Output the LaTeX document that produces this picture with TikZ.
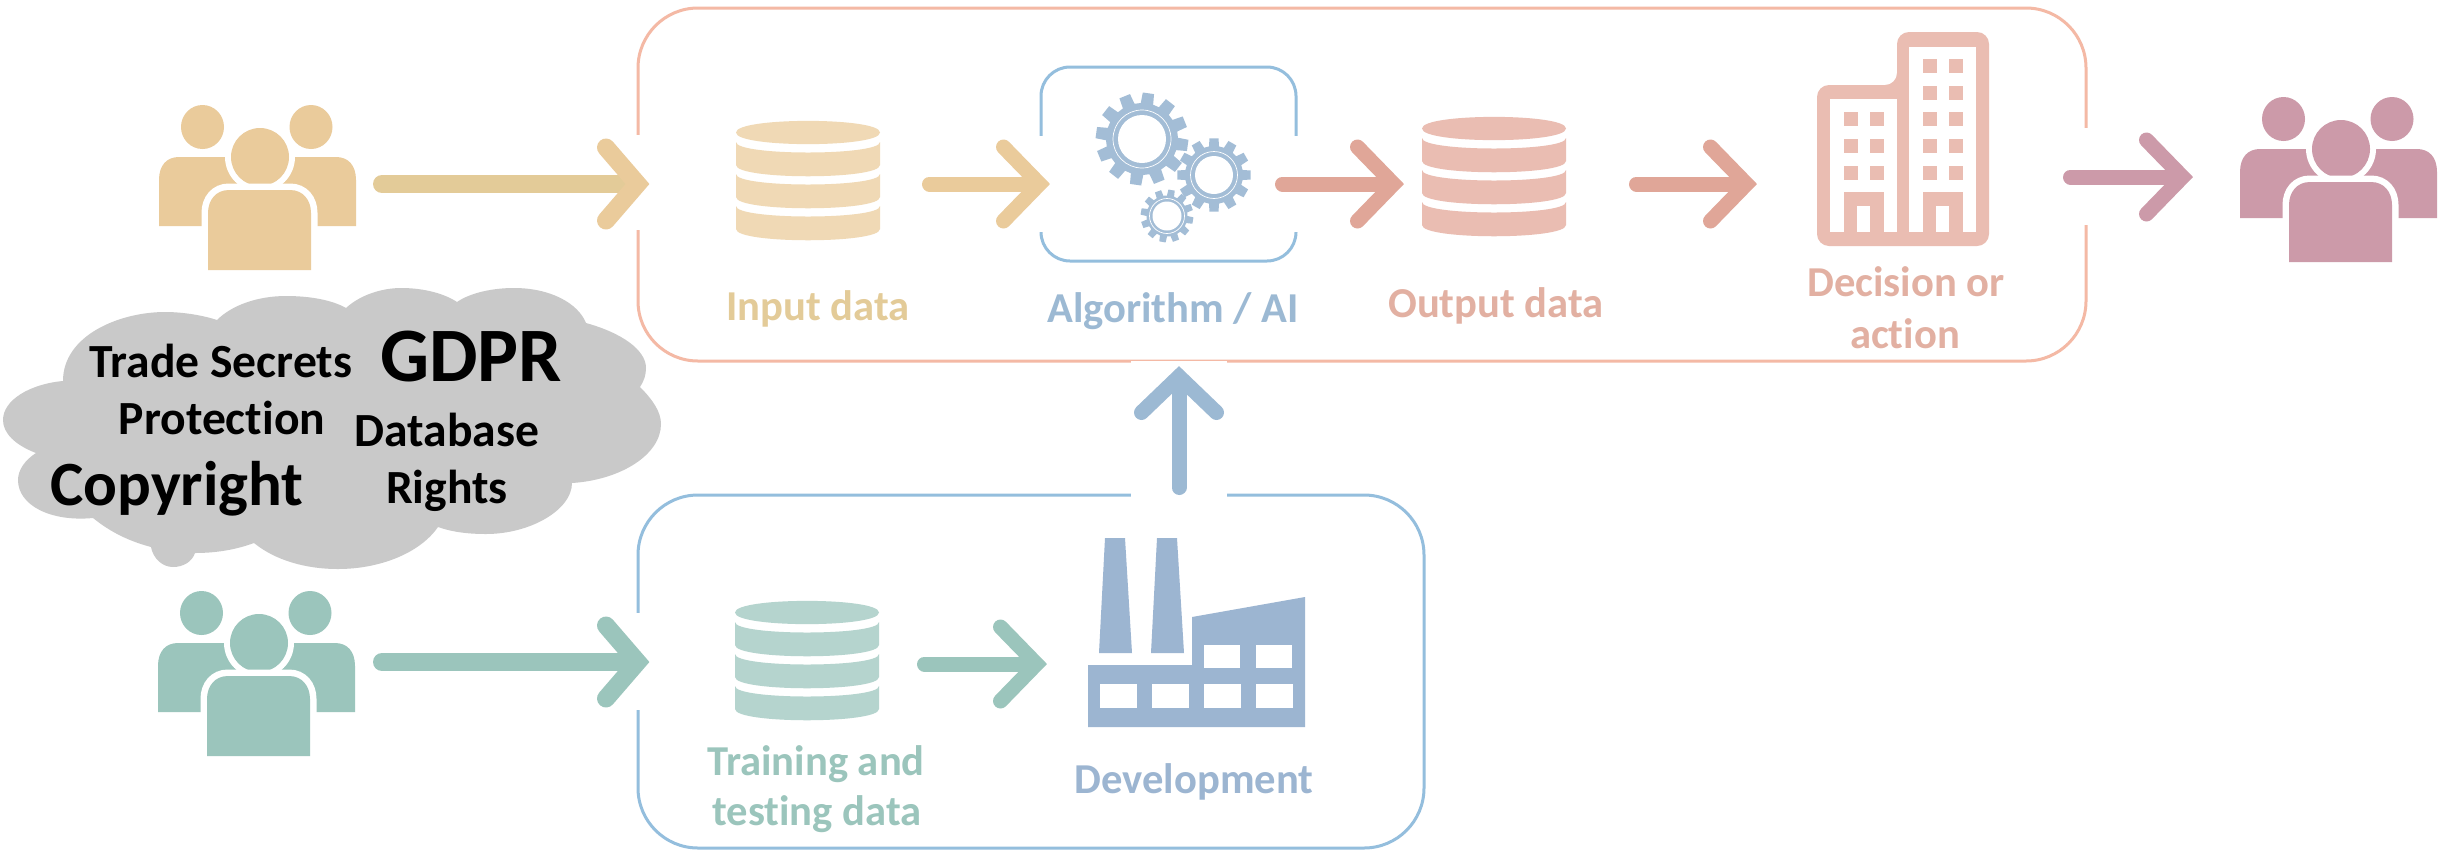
\documentclass[tikz,border=0pt]{standalone}
\usepackage{fontspec}
\setmainfont[Ligatures=CommonOff]{Carlito}
\usetikzlibrary{fit}
\definecolor{cBox}{HTML}{F4B9A5}
\definecolor{cBlueBox}{HTML}{94BEDD}
\definecolor{cSand}{HTML}{EACB9B}
\definecolor{cSandArrow}{HTML}{E3CB98}
\definecolor{cSandDb}{HTML}{F0D9B5}
\definecolor{cSandText}{HTML}{E3CB98}
\definecolor{cSalmon}{HTML}{E0A698}
\definecolor{cSalmonDb}{HTML}{EABDB2}
\definecolor{cSalmonText}{HTML}{E2B0A2}
\definecolor{cTeal}{HTML}{9BC5BC}
\definecolor{cTealDb}{HTML}{B5D4CE}
\definecolor{cBlue}{HTML}{9CB5D1}
\definecolor{cBlueText}{HTML}{9CB9D3}
\definecolor{cGear}{HTML}{A3BDD6}
\definecolor{cPink}{HTML}{CC9AA9}
\definecolor{cCloud}{HTML}{C9C9C9}
\tikzset{
  slot/.style={inner sep=0pt,outer sep=0pt,draw=none},
  framebox/.style={rounded corners=30pt,line width=1.5pt,inner sep=0pt,outer sep=0pt},
  thickshaft/.style={line width=9pt,line cap=round,shorten >=8pt},
  thinshaft/.style={line width=7.5pt,line cap=round,shorten >=8pt},
  thickbarb/.style={line width=9pt,line cap=round,line join=miter,miter limit=10},
  thinbarb/.style={line width=7.5pt,line cap=round,line join=miter,miter limit=10},
  lab/.style={anchor=base,inner sep=0pt,font=\fontsize{21.3}{25}\selectfont\bfseries},
  cloudsmall/.style={anchor=base,inner sep=0pt,text=black,font=\fontsize{23.8}{27}\selectfont\bfseries},
}
% arrow heads whose tip sits exactly on the named anchor
\newcommand{\thickhead}[2]{\draw[thickbarb,#2] ([shift={(-44,-36.5)}]#1) -- ([shift={(-12.5,0)}]#1) -- ([shift={(-44,36.5)}]#1);}
\newcommand{\thinhead}[2]{\draw[thinbarb,#2] ([shift={(-46.5,-37)}]#1) -- ([shift={(-10.5,0)}]#1) -- ([shift={(-46.5,37)}]#1);}
\newcommand{\uphead}[2]{\draw[thinbarb,#2] ([shift={(-37.5,46.5)}]#1) -- ([shift={(0,10.5)}]#1) -- ([shift={(37.5,46.5)}]#1);}
\newcommand{\peopleicon}[3]{%
  \begin{scope}[shift={(#1,#2)}]
    \fill[#3] (0,121) -- (0,75) .. controls (0,60) and (8,52) .. (20,52) -- (177,52) .. controls (189,52) and (197,60) .. (197,75) -- (197,121) -- cycle;
    \fill[#3] (43.5,22) ellipse [x radius=21.5,y radius=22];
    \fill[#3] (152,22) ellipse [x radius=21.5,y radius=22];
    \fill[white] (101,52) ellipse [x radius=35,y radius=35];
    \fill[#3] (101,52) ellipse [x radius=29,y radius=29];
    \draw[white,line width=6.5pt] (49,165) -- (49,108) .. controls (49,95) and (57,85) .. (70,85) -- (131,85) .. controls (144,85) and (152,95) .. (152,108) -- (152,165);
    \fill[#3] (49,165) -- (49,108) .. controls (49,95) and (57,85) .. (70,85) -- (131,85) .. controls (144,85) and (152,95) .. (152,108) -- (152,165) -- cycle;
  \end{scope}}
\newcommand{\dbicon}[3]{%
  \begin{scope}[shift={(#1,#2)}]
    \fill[#3] (0,11.5) .. controls (0,-4) and (144,-4) .. (144,11.5) .. controls (144,27) and (0,27) .. (0,11.5) -- cycle;
    \fill[#3] (0,21) .. controls (0,35) and (144,35) .. (144,21) -- (144,44) .. controls (144,59) and (0,59) .. (0,44) -- cycle;
    \fill[#3] (0,53) .. controls (0,67) and (144,67) .. (144,53) -- (144,76) .. controls (144,91) and (0,91) .. (0,76) -- cycle;
    \fill[#3] (0,85) .. controls (0,99) and (144,99) .. (144,85) -- (144,108) .. controls (144,123) and (0,123) .. (0,108) -- cycle;
  \end{scope}}
% centre x, centre y, outer r, root r, hole r, ring r, rotation
\newcommand{\gearicon}[7]{%
  \begin{scope}[shift={(#1,#2)}]
    \fill[cGear] ({#7-10}:#4) \foreach \a in {0,30,...,330}{ -- ({\a+#7-10}:#4) -- ({\a+#7-7}:#3) -- ({\a+#7+7}:#3) -- ({\a+#7+10}:#4) } -- cycle;
    \fill[white] (0,0) circle [radius=#5];
    \draw[white,line width=.35pt] (0,0) circle [radius=#6];
  \end{scope}}
\begin{document}
\begin{tikzpicture}[x=0.5pt,y=-0.5pt]
\useasboundingbox[fill=white] (0,0) rectangle (2458,853);

% frames
\node[framebox,draw=cBox,fit={(638,8) (2086,361)}] (topframe) {};
\node[framebox,draw=cBlueBox,fit={(638,495) (1424,848)}] (devframe) {};
\node[draw=cBlueBox,line width=1.5pt,rounded corners=14.5pt,inner sep=0pt,outer sep=0pt,fit={(1041,67) (1296,261)}] (algframe) {};
% gaps
\fill[white] (630,135) rectangle (646,230);
\fill[white] (2078,128) rectangle (2094,225);
\fill[white] (630,613) rectangle (646,710);
\fill[white] (1033,136) rectangle (1304,232);
\fill[white] (1131,361) rectangle (1227,500);

% anchors for connectors
\node[slot,fit={(159,184) (382,184)}] (peopleA) {};
\node[slot,fit={(650,184) (929.5,184)}] (dbA) {};
\node[slot,fit={(1050,184) (1282.5,184)}] (gears) {};
\node[slot,fit={(1404,184) (1636.5,184)}] (dbB) {};
\node[slot,fit={(1757,184) (2070.5,184)}] (tower) {};
\node[slot,fit={(2193,177) (2438,177)}] (peopleB) {};
\node[slot,fit={(158,662) (382,662)}] (peopleC) {};
\node[slot,fit={(650,662) (924.5,662)}] (dbC) {};
\node[slot,fit={(1047,664) (1305,664)}] (factory) {};
\coordinate (upfoot) at (1179,487.5);
\coordinate (uptip) at (1179,366);

% people
\peopleicon{159}{105}{cSand}
\peopleicon{2240}{97}{cPink}
\peopleicon{158}{591}{cTeal}

% databases
\dbicon{736}{121}{cSandDb}
\dbicon{1422}{117}{cSalmonDb}
\dbicon{735}{601}{cTealDb}

% gears
\gearicon{1142}{139}{46.5}{36}{24}{29}{8}
\gearicon{1214}{175}{37}{29}{19}{23.5}{0}
\gearicon{1167}{216}{26.5}{20.5}{14.5}{17.5}{10}

% building
\fill[cSalmonDb,rounded corners=6pt] (1817,246) -- (1817,85) -- (1897,85) -- (1897,32) -- (1989,32) -- (1989,246) -- cycle;
\fill[white] (1830,99) rectangle (1897,232);
\fill[white] (1909,47) rectangle (1976,232);
\foreach \wx in {1923,1949}{
  \foreach \wy in {59,86,112,139,166}{
    \fill[cSalmonDb] (\wx,\wy) rectangle ++(14,14);
  }
}
\foreach \wx in {1844,1870}{
  \foreach \wy in {112,139,166}{
    \fill[cSalmonDb] (\wx,\wy) rectangle ++(14,14);
  }
}
\fill[cSalmonDb] (1844,192) rectangle (1884,232);
\fill[white] (1857,206) rectangle (1870,232);
\fill[cSalmonDb] (1923,192) rectangle (1963,232);
\fill[white] (1936,206) rectangle (1949,232);

% factory
\fill[cBlue] (1105,538) -- (1125,538) -- (1132,653) -- (1099,653) -- cycle;
\fill[cBlue] (1157,538) -- (1177,538) -- (1184,653) -- (1151,653) -- cycle;
\fill[cBlue] (1088,665) -- (1192,665) -- (1192,617) -- (1305,597) -- (1305,727) -- (1088,727) -- cycle;
\foreach \wx in {1204,1256}{ \fill[white] (\wx,645) rectangle ++(36,23); }
\foreach \wx in {1100,1152,1204,1256}{ \fill[white] (\wx,684) rectangle ++(36.5,24); }

% cloud
\fill[cCloud] (63,381) .. controls (63,335) and (120,312) .. (165,312)
  .. controls (185,312) and (205,316) .. (217,320)
  .. controls (232,305) and (258,296) .. (286,296)
  .. controls (310,296) and (332,300) .. (346,308)
  .. controls (360,295) and (382,288) .. (401,288)
  .. controls (425,288) and (445,294) .. (457,302)
  .. controls (470,293) and (492,288) .. (514,288)
  .. controls (550,288) and (578,303) .. (586,323)
  .. controls (622,333) and (646,350) .. (646,368)
  .. controls (646,375) and (644,381) .. (640,387)
  .. controls (653,400) and (661,412) .. (661,424)
  .. controls (661,455) and (620,480) .. (572,483)
  .. controls (572,510) and (530,534) .. (486,534)
  .. controls (468,534) and (452,532) .. (438,527)
  .. controls (420,553) and (380,569) .. (338,569)
  .. controls (305,569) and (275,560) .. (254,543)
  .. controls (235,550) and (215,553) .. (195,553)
  .. controls (192,562) and (183,567) .. (173,567)
  .. controls (162,567) and (153,558) .. (151,547)
  .. controls (125,540) and (108,530) .. (93,518)
  .. controls (50,522) and (18,505) .. (18,480)
  .. controls (18,470) and (25,460) .. (36,453)
  .. controls (15,445) and (3,433) .. (3,420)
  .. controls (3,400) and (30,384) .. (63,381) -- cycle;

% connectors
\draw[thickshaft,cSandArrow] (peopleA.east) -- (dbA.west); \thickhead{dbA.west}{cSand}
\draw[thinshaft,cSand] (dbA.east) -- (gears.west); \thinhead{gears.west}{cSand}
\draw[thinshaft,cSalmon] (gears.east) -- (dbB.west); \thinhead{dbB.west}{cSalmon}
\draw[thinshaft,cSalmon] (dbB.east) -- (tower.west); \thinhead{tower.west}{cSalmon}
\draw[thinshaft,cPink] (tower.east |- peopleB.west) -- (peopleB.west); \thinhead{peopleB.west}{cPink}
\draw[thickshaft,cTeal] (peopleC.east) -- (dbC.west); \thickhead{dbC.west}{cTeal}
\draw[thinshaft,cTeal] (dbC.east |- factory.west) -- (factory.west); \thinhead{factory.west}{cTeal}
\draw[thinshaft,cBlueText] (upfoot) -- (uptip); \uphead{uptip}{cBlueText}

% labels
\node[lab,text=cSandText] (tInput) at (818,320) {Input data};
\node[lab,text=cBlueText] (tAlg) at (1173,322) {Algorithm / AI};
\node[lab,text=cSalmonText] (tOut) at (1496,317) {Output data};
\node[lab,text=cSalmonText] (tDec) at (1906,296) {Decision or};
\node[lab,text=cSalmonText] (tAct) at (1905,348) {action};
\node[lab,text=cTeal] (tTrain) at (816,775) {Training and};
\node[lab,text=cTeal] (tTest) at (817,825) {testing data};
\node[lab,text=cBlue] (tDev) at (1194,793) {Development};

\node[cloudsmall] (tTrade) at (221,377) {Trade Secrets};
\node[cloudsmall] (tProt) at (222,434) {Protection};
\node[cloudsmall] (tDb) at (447,446) {Database};
\node[cloudsmall] (tRights) at (447,503) {Rights};
\node[cloudsmall,font=\fontsize{38.5}{42}\selectfont\bfseries] (tGdpr) at (471,381) {GDPR};
\node[cloudsmall,font=\fontsize{31.5}{35}\selectfont\bfseries] (tCopy) at (177,505) {Copyright};
\end{tikzpicture}
\end{document}
